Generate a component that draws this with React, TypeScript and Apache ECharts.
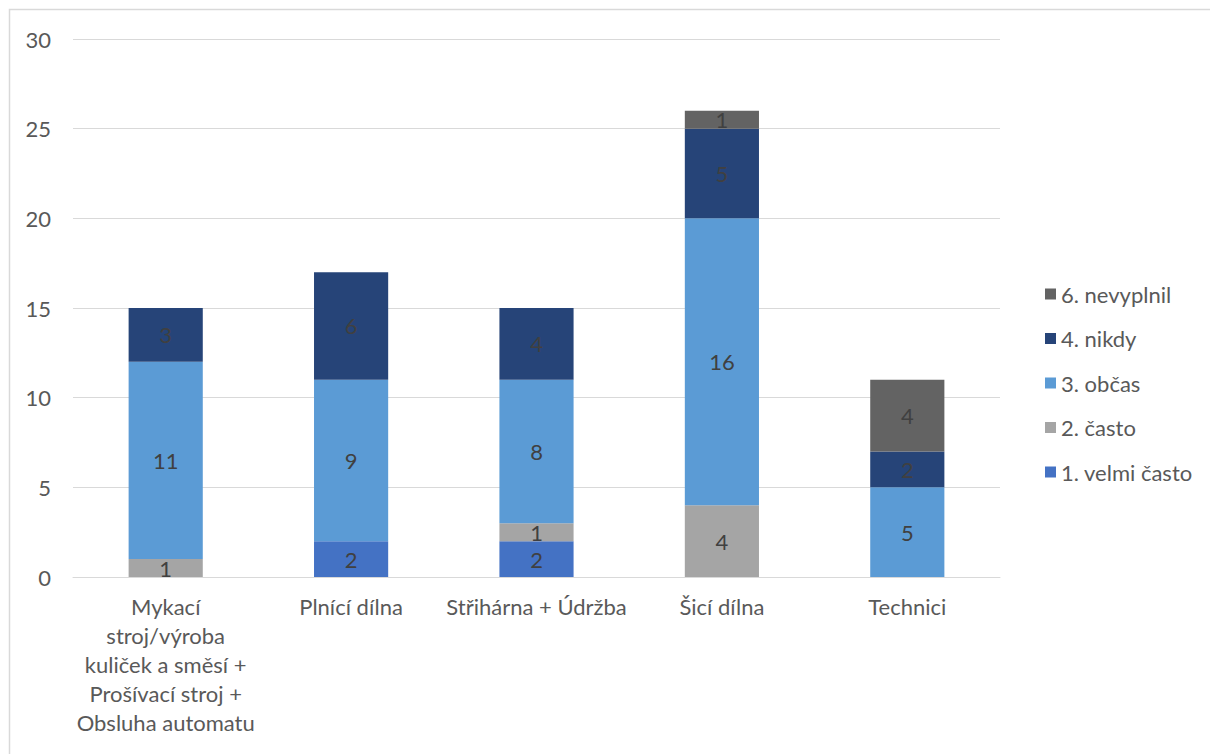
import React, { useEffect, useRef } from "react";
import * as echarts from "echarts";

const categories = [
  "Mykací stroj/výroba kuliček a směsí + Prošívací stroj + Obsluha automatu",
  "Plnící dílna",
  "Střihárna + Údržba",
  "Šicí dílna",
  "Technici",
];
const categoryLabels = [
  "Mykací\nstroj/výroba\nkuliček a směsí +\nProšívací stroj +\nObsluha automatu",
  "Plnící dílna",
  "Střihárna + Údržba",
  "Šicí dílna",
  "Technici",
];
const velmiCasto = [null, 2, 2, null, null];
const casto = [1, null, 1, 4, null];
const obcas = [11, 9, 8, 16, 5];
const nikdy = [3, 6, 4, 5, 2];
const nevyplnil = [null, null, null, 1, 4];
const yTicks = [0, 5, 10, 15, 20, 25, 30];

const seriesDefs = [
  { name: "1. velmi často", data: velmiCasto, color: "#4472C4" },
  { name: "2. často", data: casto, color: "#A5A5A5" },
  { name: "3. občas", data: obcas, color: "#5B9BD5" },
  { name: "4. nikdy", data: nikdy, color: "#264478" },
  { name: "6. nevyplnil", data: nevyplnil, color: "#636363" },
];

const FONT = "Lato, 'Open Sans', sans-serif";
const FS = 22;

export default function App() {
  const ref = useRef<HTMLDivElement>(null);
  useEffect(() => {
    if (!ref.current) return;
    const chart = echarts.init(ref.current, undefined, { renderer: "svg" });
    chart.setOption({
      animation: false,
      backgroundColor: "#ffffff",
      textStyle: { fontFamily: FONT },
      graphic: [
        {
          type: "rect",
          shape: { x: 9.5, y: 9.5, width: 1220, height: 800 },
          style: { fill: "none", stroke: "#D9D9D9", lineWidth: 1.5 },
          silent: true,
          z: -1,
        },
      ],
      grid: { left: 73, right: 210, top: 39, bottom: 177, containLabel: false },
      legend: {
        orient: "vertical",
        left: 1040,
        top: 278,
        itemWidth: 11,
        itemHeight: 11,
        itemGap: 22.5,
        itemStyle: { borderWidth: 0 },
        data: seriesDefs.map((s) => s.name).reverse(),
        textStyle: { fontFamily: FONT, fontSize: FS, color: "#595959" },
        icon: "rect",
      },
      xAxis: {
        type: "category",
        data: categories,
        axisLine: { lineStyle: { color: "#D9D9D9", width: 1 } },
        axisTick: { show: false },
        axisLabel: {
          interval: 0,
          margin: 15,
          fontFamily: FONT,
          fontSize: FS,
          lineHeight: 29,
          color: "#595959",
          formatter: (v: string) => categoryLabels[categories.indexOf(v)],
        },
      },
      yAxis: {
        type: "value",
        min: yTicks[0],
        max: yTicks[yTicks.length - 1],
        interval: 5,
        axisLine: { show: false },
        axisTick: { show: false },
        splitLine: { lineStyle: { color: "#D9D9D9", width: 1 } },
        axisLabel: { margin: 22, fontFamily: FONT, fontSize: FS, color: "#595959" },
      },
      series: seriesDefs.map((s) => ({
        name: s.name,
        type: "bar",
        stack: "total",
        barWidth: "40%",
        data: s.data,
        itemStyle: { color: s.color },
        label: {
          show: true,
          position: "inside",
          fontFamily: FONT,
          fontSize: FS,
          color: "#404040",
        },
      })),
    });
    return () => chart.dispose();
  }, []);
  return (
    <div
      ref={ref}
      style={{ position: "fixed", left: 0, top: 0, width: 1210, height: 754 }}
    />
  );
}
